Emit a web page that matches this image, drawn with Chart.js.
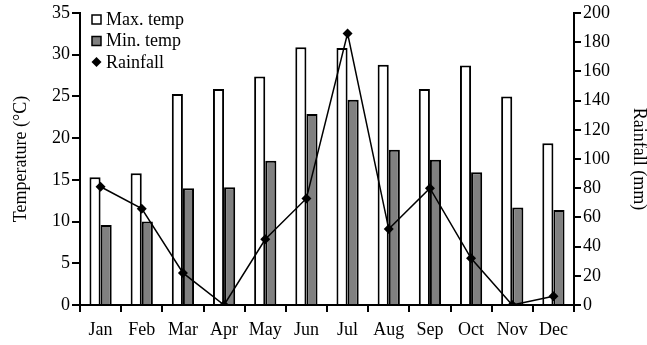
<!DOCTYPE html>
<html>
<head>
<meta charset="utf-8">
<script src="https://cdn.jsdelivr.net/npm/chart.js@4/dist/chart.umd.min.js"></script>
<style>
    html, body { margin: 0; padding: 0; background: #fff; }
    #wrap { width: 647px; height: 345px; }
</style>
</head>
<body>
<div id="wrap"><canvas id="climate-chart" width="647" height="345"></canvas></div>
<script>
const months = ["Jan", "Feb", "Mar", "Apr", "May", "Jun", "Jul", "Aug", "Sep", "Oct", "Nov", "Dec"];
const maxTemp = [15.3, 15.8, 25.3, 25.9, 27.4, 30.9, 30.8, 28.8, 25.9, 28.7, 25.0, 19.4];
const minTemp = [9.6, 10.0, 14.0, 14.1, 17.3, 22.9, 24.6, 18.6, 17.4, 15.9, 11.7, 11.4];
const rainfall = [81, 66, 22, 0, 45, 73, 186, 52, 80, 32, 0, 6];

(() => {
    const canvas = document.getElementById("climate-chart");
    const family = "'Liberation Serif', 'Times New Roman', serif";
    const font = { family, size: 18 };

    // legend drawn inside the plot, top-left, like the original figure
    const innerLegend = {
        id: "innerLegend",
        afterDraw(chart) {
            const ctx = chart.ctx;
            const x = chart.chartArea.left + 12;
            let y = chart.chartArea.top + 6;
            const items = [1, 2, 0].map((i) => chart.data.datasets[i]);
            ctx.save();
            ctx.font = `18px ${family}`;
            ctx.textBaseline = "middle";
            items.forEach((ds) => {
                ctx.strokeStyle = "#000";
                ctx.lineWidth = 1.5;
                if (ds.type === "line") {
                    ctx.fillStyle = "#000";
                    ctx.beginPath();
                    ctx.moveTo(x + 4.5, y - 5);
                    ctx.lineTo(x + 9.5, y);
                    ctx.lineTo(x + 4.5, y + 5);
                    ctx.lineTo(x - 0.5, y);
                    ctx.closePath();
                    ctx.fill();
                } else {
                    ctx.fillStyle = ds.backgroundColor;
                    ctx.fillRect(x, y - 4, 9, 9);
                    ctx.strokeRect(x, y - 4, 9, 9);
                }
                ctx.fillStyle = "#000";
                ctx.fillText(ds.label, x + 14, y + 1);
                y += 21.5;
            });
            ctx.restore();
        },
    };

    new Chart(canvas, {
        data: {
            labels: months,
            datasets: [
                {
                    type: "line",
                    label: "Rainfall",
                    data: rainfall,
                    yAxisID: "yRain",
                    borderColor: "#000",
                    borderWidth: 1.5,
                    backgroundColor: "#000",
                    pointStyle: "rectRot",
                    pointRadius: 5,
                    pointBorderWidth: 0,
                    tension: 0,
                    order: 0,
                },
                {
                    type: "bar",
                    label: "Max. temp",
                    data: maxTemp,
                    yAxisID: "yTemp",
                    backgroundColor: "#ffffff",
                    borderColor: "#000",
                    borderWidth: 2,
                    categoryPercentage: 0.54,
                    barPercentage: 1,
                    order: 1,
                },
                {
                    type: "bar",
                    label: "Min. temp",
                    data: minTemp,
                    yAxisID: "yTemp",
                    backgroundColor: "#808080",
                    borderColor: "#000",
                    borderWidth: 2,
                    categoryPercentage: 0.54,
                    barPercentage: 1,
                    order: 1,
                },
            ],
        },
        options: {
            responsive: false,
            animation: false,
            layout: { padding: { top: 13, left: 0, right: 0, bottom: 0 } },
            plugins: {
                legend: { display: false },
                tooltip: { enabled: false },
            },
            scales: {
                x: {
                    afterFit: (scale) => { scale.height = 40; },
                    grid: { drawOnChartArea: false, color: "#000", lineWidth: 2, tickLength: 7 },
                    border: { color: "#000", width: 2 },
                    ticks: { color: "#000", font, padding: 7, maxRotation: 0 },
                },
                yTemp: {
                    position: "left",
                    min: 0,
                    max: 35,
                    afterFit: (scale) => { scale.width = 80; },
                    grid: { drawOnChartArea: false, color: "#000", lineWidth: 2, tickLength: 8 },
                    border: { color: "#000", width: 2 },
                    ticks: { stepSize: 5, color: "#000", font, padding: 2 },
                    title: { display: true, text: "Temperature (°C)", color: "#000", font, padding: { top: 10, bottom: 0 } },
                },
                yRain: {
                    position: "right",
                    min: 0,
                    max: 200,
                    afterFit: (scale) => { scale.width = 73; },
                    grid: { drawOnChartArea: false, color: "#000", lineWidth: 2, tickLength: 7 },
                    border: { color: "#000", width: 2 },
                    ticks: { stepSize: 20, color: "#000", font, padding: 2 },
                    title: { display: true, text: "Rainfall (mm)", color: "#000", font, padding: { top: -3, bottom: 0 } },
                },
            },
        },
        plugins: [innerLegend],
    });
})();
</script>
</body>
</html>
